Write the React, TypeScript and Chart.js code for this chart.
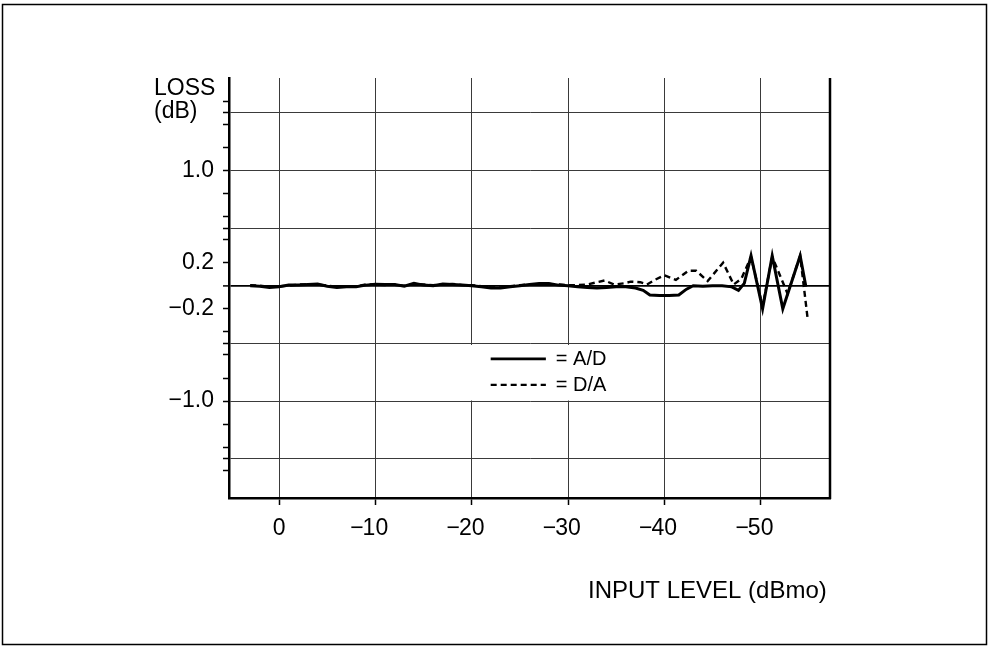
import React, { useEffect, useRef } from "react";
import { Chart, registerables } from "chart.js";

Chart.register(...registerables);

// ---- data ----
const xTickValues = [0, -10, -20, -30, -40, -50];
const xTickLabels = ["0", "\u221210", "\u221220", "\u221230", "\u221240", "\u221250"];

const yGridValues = [1.5, 1.0, 0.5, 0, -0.5, -1.0, -1.5];
const yMinorTickValues = [1.6, 1.4, 1.2, 1.0, 0.8, 0.6, 0.4, 0.2, 0, -0.2, -0.4, -0.6, -0.8, -1.0, -1.2, -1.4, -1.6];
const yLabelValues = [1.0, 0.2, -0.2, -1.0];
const yLabelTexts = ["1.0", "0.2", "\u22120.2", "\u22121.0"];

const adX = [3, 2, 1, 0, -1, -2, -3, -4, -5, -6, -7, -8, -9, -10, -11, -12, -13, -14, -15, -16, -17, -18, -19, -20, -21, -22, -23, -24, -25, -26, -27, -28, -29, -30, -31, -32, -33, -34, -35, -36, -37,
  -37.8, -38.5, -39.5, -40.5, -41.5, -42.3, -43, -44, -45, -46, -47, -47.7, -48.3, -49, -50.2, -51.2, -52.3, -54.1, -54.7];
const adY = [0, -0.005, -0.015, -0.01, 0.005, 0.005, 0.01, 0.015, -0.005, -0.015, -0.01, -0.01, 0.005, 0.012, 0.01, 0.01, -0.005, 0.02, 0.005, 0.0, 0.015, 0.01, 0.005, 0.0, -0.01, -0.02, -0.02, -0.01, 0.0, 0.01, 0.02, 0.018, 0.005, 0.0, -0.01, -0.015, -0.02, -0.015, -0.01, -0.01, -0.02,
  -0.04, -0.08, -0.085, -0.085, -0.08, -0.03, 0, -0.005, 0, 0, -0.01, -0.04, 0.02, 0.26, -0.2, 0.26, -0.2, 0.26, -0.01];

const daX = [3, 2, 1, 0, -1, -2, -3, -4, -5, -6, -7, -8, -9, -10, -11, -12, -13, -14, -15, -16, -17, -18, -19, -20, -21, -22, -23, -24, -25, -26, -27, -28, -29, -30, -31,
  -32, -33, -33.8, -34.8, -35.8, -36.5, -37.5, -38.2, -39, -40, -41.2, -42.5, -43.3, -44.5, -46.1, -47.2, -48, -49, -50.2, -51.2, -52.8, -54.1, -54.9];
const daY = [0.005, 0, -0.01, -0.005, 0.0, 0.01, 0.01, 0.01, 0.0, -0.01, -0.01, -0.005, 0.01, 0.01, 0.005, 0.01, 0.0, 0.015, 0.01, 0.005, 0.01, 0.015, 0.005, 0.005, -0.005, -0.015, -0.015, -0.005, 0.005, 0.01, 0.015, 0.015, 0.01, 0.005, 0.005,
  0.01, 0.03, 0.045, 0.01, 0.02, 0.035, 0.03, 0.01, 0.05, 0.09, 0.05, 0.13, 0.13, 0.04, 0.2, 0.01, 0.06, 0.25, -0.18, 0.25, -0.07, 0.26, -0.3];

const seriesNames = ["A/D", "D/A"];
const yTitleLines = ["LOSS", "(dB)"];
const xTitle = "INPUT LEVEL (dBmo)";

const FONT = "'Liberation Sans', Arial, Helvetica, sans-serif";

const near = (a: number, b: number) => Math.abs(a - b) < 1e-6;

export default function App() {
  const ref = useRef<HTMLCanvasElement | null>(null);

  useEffect(() => {
    const canvas = ref.current;
    if (!canvas) return;

    const allY = Array.from(new Set([...yMinorTickValues, ...yGridValues])).sort((a, b) => a - b);

    const decor = {
      id: "decor",
      afterDatasetsDraw(chart: any) {
        const ctx = chart.ctx as CanvasRenderingContext2D;
        const xs = chart.scales.x;
        const ys = chart.scales.y;
        // legend box placed in data space
        const left = xs.getPixelForValue(-19.4);
        const right = xs.getPixelForValue(-33.85);
        const top = ys.getPixelForValue(-0.514);
        const bottom = ys.getPixelForValue(-0.995);
        ctx.save();
        ctx.fillStyle = "#fff";
        ctx.fillRect(left, top, right - left, bottom - top);
        const lx0 = xs.getPixelForValue(-21.97);
        const lx1 = xs.getPixelForValue(-27.7);
        const rows = [ys.getPixelForValue(-0.635), ys.getPixelForValue(-0.86)];
        ctx.strokeStyle = "#000";
        ctx.fillStyle = "#000";
        ctx.font = `20px ${FONT}`;
        ctx.textBaseline = "middle";
        ctx.textAlign = "left";
        rows.forEach((y, i) => {
          ctx.beginPath();
          ctx.lineWidth = i === 0 ? 2.8 : 2.2;
          ctx.setLineDash(i === 0 ? [] : [6, 4]);
          ctx.moveTo(lx0, y);
          ctx.lineTo(lx1, y);
          ctx.stroke();
          ctx.setLineDash([]);
          ctx.fillText("= " + seriesNames[i], lx1 + 10, y + 1);
        });
        ctx.restore();
      },
      afterDraw(chart: any) {
        const ctx = chart.ctx as CanvasRenderingContext2D;
        const ca = chart.chartArea;
        const xs = chart.scales.x;
        ctx.save();
        // outer frame
        ctx.strokeStyle = "#000";
        ctx.lineWidth = 1.5;
        ctx.strokeRect(2.5, 4.5, 984, 640);
        // right border of plot
        ctx.lineWidth = 2.5;
        ctx.beginPath();
        ctx.moveTo(ca.right, ca.top);
        ctx.lineTo(ca.right, ca.bottom + 1);
        ctx.stroke();
        // x tick labels, digits centred on the tick, minus hanging left
        ctx.fillStyle = "#000";
        ctx.font = `23px ${FONT}`;
        ctx.textBaseline = "alphabetic";
        xTickValues.forEach((v, i) => {
          const px = xs.getPixelForValue(v);
          const t = xTickLabels[i];
          const hasMinus = t.startsWith("\u2212");
          const digits = hasMinus ? t.slice(1) : t;
          const w = ctx.measureText(digits).width;
          ctx.textAlign = "center";
          ctx.fillText(digits, px, 535);
          if (hasMinus) {
            ctx.textAlign = "right";
            ctx.fillText("\u2212", px - w / 2 + 1, 535);
          }
        });
        // titles
        ctx.textAlign = "left";
        ctx.fillText(yTitleLines[0], 154, 95);
        ctx.fillText(yTitleLines[1], 154, 118);
        ctx.font = `24px ${FONT}`;
        ctx.fillText(xTitle, 588, 598);
        ctx.restore();
      },
    };

    const chart = new Chart(canvas, {
      type: "line",
      data: {
        datasets: [
          {
            label: seriesNames[0],
            data: adX.map((x, i) => ({ x, y: adY[i] })),
            borderColor: "#000",
            borderWidth: 3,
            pointRadius: 0,
            tension: 0,
            fill: false,
          },
          {
            label: seriesNames[1],
            data: daX.map((x, i) => ({ x, y: daY[i] })),
            borderColor: "#000",
            borderWidth: 2.4,
            borderDash: [6, 4],
            pointRadius: 0,
            tension: 0,
            fill: false,
          },
        ],
      },
      options: {
        animation: false,
        responsive: false,
        maintainAspectRatio: false,
        layout: { padding: { left: 0, right: 160, top: 78, bottom: 110 } },
        plugins: {
          legend: { display: false },
          tooltip: { enabled: false },
          title: { display: false },
        },
        scales: {
          x: {
            type: "linear",
            reverse: true,
            min: -57.2,
            max: 5.2,
            afterBuildTicks: (s: any) => {
              s.ticks = xTickValues.map((v) => ({ value: v }));
            },
            afterFit: (s: any) => {
              s.height = 40;
            },
            ticks: { display: false },
            grid: { color: "#3a3a3a", lineWidth: 1, tickLength: 7, tickColor: "#000", tickWidth: 1.5 },
            border: { display: true, color: "#000", width: 2.5 },
          },
          y: {
            type: "linear",
            min: -1.84,
            max: 1.8,
            afterBuildTicks: (s: any) => {
              s.ticks = allY.map((v) => ({ value: v }));
            },
            afterFit: (s: any) => {
              s.width = 229;
            },
            ticks: {
              autoSkip: false,
              padding: 9,
              color: "#000",
              font: { family: FONT, size: 23 },
              callback: (v: any) => {
                const idx = yLabelValues.findIndex((l) => near(l, Number(v)));
                return idx >= 0 ? yLabelTexts[idx] : "";
              },
            },
            grid: {
              color: (c: any) => {
                const v = c.tick ? c.tick.value : NaN;
                if (near(v, 0)) return "#000";
                return yGridValues.some((g) => near(g, v)) ? "#3a3a3a" : "rgba(0,0,0,0)";
              },
              lineWidth: (c: any) => (c.tick && near(c.tick.value, 0) ? 1.8 : 1),
              tickLength: 6,
              tickColor: "#000",
              tickWidth: 1.5,
            },
            border: { display: true, color: "#000", width: 2.5 },
          },
        },
      },
      plugins: [decor],
    });

    return () => chart.destroy();
  }, []);

  return (
    <div style={{ position: "fixed", left: 0, top: 0, width: 990, height: 648, background: "#fff" }}>
      <canvas ref={ref} width={990} height={648} style={{ display: "block", width: 990, height: 648 }} />
    </div>
  );
}
